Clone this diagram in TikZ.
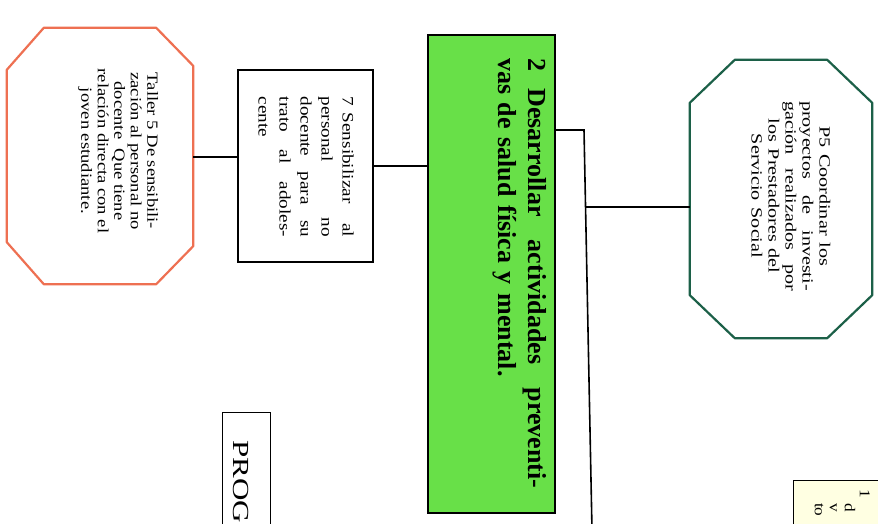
\documentclass[tikz,border=0pt]{standalone}
\usepackage{fontspec}
\setmainfont{Liberation Serif}
\usetikzlibrary{calc}
\definecolor{octorange}{RGB}{238,112,82}
\definecolor{octgreen}{RGB}{28,96,72}
\definecolor{boxgreen}{RGB}{104,224,72}
\definecolor{noteyellow}{RGB}{255,255,226}
\begin{document}
\begin{tikzpicture}[x=1pt,y=-1pt,
  conn/.style={draw=black, line width=1.6pt},
  octo/.style={line width=2.2pt, line join=round, fill=white},
  rtext/.style={rotate=-90, xscale=#1, inner sep=0pt},
  rtext/.default=1,
  plainbox/.style={draw=black, line width=1.6pt, fill=white, inner sep=0pt},
]
\useasboundingbox (0,0) rectangle (878,524);
\clip (0,0) rectangle (878,524);
\fill[white] (0,0) rectangle (878,524);

% anchor frames
\node[inner sep=0pt, minimum width=186pt, minimum height=256pt] (tal) at (100,156) {};
\node[inner sep=0pt, minimum width=182pt, minimum height=278pt] (p5) at (781,199) {};
\node[plainbox, minimum width=135pt, minimum height=192pt] (b7) at (305.5,166) {};
\node[draw=black, line width=1.8pt, fill=boxgreen, inner sep=0pt, minimum width=127pt, minimum height=478pt] (g) at (491.5,274) {};

% octagons
\draw[octo, draw=octorange]
  ($(tal.north west)+(37,0)$) -- ($(tal.north east)+(-37,0)$) -- ($(tal.north east)+(0,38)$)
  -- ($(tal.south east)+(0,-38)$) -- ($(tal.south east)+(-37,0)$) -- ($(tal.south west)+(37,0)$)
  -- ($(tal.south west)+(0,-42)$) -- ($(tal.north west)+(0,42)$) -- cycle;
\draw[octo, draw=octgreen]
  ($(p5.north west)+(45,0)$) -- ($(p5.north east)+(-45,0)$) -- ($(p5.north east)+(0,43)$)
  -- ($(p5.south east)+(0,-43)$) -- ($(p5.south east)+(-45,0)$) -- ($(p5.south west)+(45,0)$)
  -- ($(p5.south west)+(0,-43)$) -- ($(p5.north west)+(0,43)$) -- cycle;

% partial boxes at the bottom
\node[plainbox, line width=1.3pt, minimum width=48pt, minimum height=150pt, anchor=north west] (prog) at (222,412) {};
\node[draw=black, line width=1.3pt, fill=noteyellow, inner sep=0pt, minimum width=120pt, minimum height=80pt, anchor=north west] (ybox) at (793,480) {};

% texts
\node[rtext=1.2, align=center, font=\fontsize{15.5}{16.5}\selectfont] (taltx) at (118,151) {Taller 5 De sensibili-\\zación al personal no\\docente~ Que tiene\\relación directa con el\\joven estudiante.};
\node[rtext=1.2, align=left, text width=117pt, font=\fontsize{16}{21}\selectfont] (b7tx) at (306,167) {7 Sensibilizar\hfill al\\personal\hfill no\\docente\hfill para\hfill su\\trato\hfill al\hfill adoles-\\cente};
\node[rtext, anchor=north west, align=left, text width=430pt, font=\bfseries\fontsize{26}{30}\selectfont] (gtx) at (547,58) {2~~Desarrollar\hfill actividades\hfill preventi-\\vas de salud física y mental.};
\node[rtext=1.3, align=center, text width=146pt, font=\fontsize{15.5}{17}\selectfont] (p5tx) at (791,196) {P5 Coordinar los\\proyectos\hfill de\hfill investi-\\gación\hfill realizados\hfill por\\los Prestadores del\\Servicio Social};
\node[rtext=1.35, anchor=north west, font=\fontsize{23}{27}\selectfont] (progtx) at (249,440) {PROG};
\node[rtext=1.15, anchor=north west, align=left, font=\fontsize{15}{15}\selectfont] (ytx) at (870,489) {1\\\hspace*{12pt}d\\\hspace*{12pt}v\\\hspace*{12pt}to};

% connectors
\coordinate (ja) at (584,130);
\coordinate (jb) at (585,207);
\coordinate (jend) at (592,530);
\draw[conn] (tal.east |- 0,157) -- (b7.west |- 0,157);
\draw[conn] (b7.east) -- (b7.east -| g.west);
\draw[conn] (g.east |- ja) -- (ja) -- (jend);
\draw[conn] (jb) -- (jb -| p5.west);
\end{tikzpicture}
\end{document}
